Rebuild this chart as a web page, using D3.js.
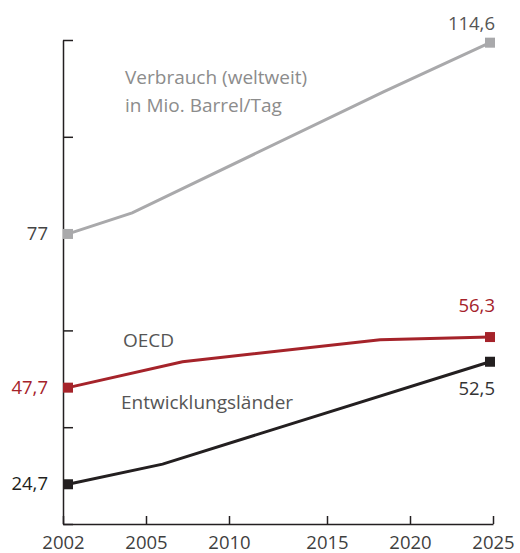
<!DOCTYPE html>
<html>
<head>
<meta charset="utf-8">
<script src="https://cdn.jsdelivr.net/npm/d3@7"></script>
<style>
  body { margin: 0; background: #fff; }
  text { font-family: "Open Sans", "Noto Sans", sans-serif; }
</style>
</head>
<body>
<div id="chart"></div>
<script>
// data
var tickYears = [2002, 2005, 2010, 2015, 2020, 2025];

var verbrauch = [
  {year: 2002, value: 77},
  {year: 2004.5, value: 81.4},
  {year: 2018.4, value: 105},
  {year: 2025, value: 114.6}
];
var oecd = [
  {year: 2002, value: 47.7},
  {year: 2007.2, value: 52.5},
  {year: 2018.2, value: 55.9},
  {year: 2025, value: 56.3}
];
var entwicklung = [
  {year: 2002, value: 24.7},
  {year: 2006, value: 29.5},
  {year: 2025, value: 52.5}
];

var seriesNames = ["Verbrauch", "OECD", "Entwicklungsländer"];
var seriesColors = ["#a9a9ab", "#a5232a", "#231f20"];
var labelColors = ["#555555", "#a5232a", "#231f20"];

// set the dimensions and margins of the graph
var margin = {top: 40, right: 27, bottom: 29, left: 63},
    width = 520 - margin.left - margin.right,
    height = 553 - margin.top - margin.bottom;

var svg = d3.select("#chart")
  .append("svg")
    .attr("width", width + margin.left + margin.right)
    .attr("height", height + margin.top + margin.bottom)
  .append("g")
    .attr("transform", "translate(" + margin.left + "," + margin.top + ")");

// X scale (the original spacing of the years is not even)
var x = d3.scaleLinear()
  .domain(tickYears)
  .range([0, 83, 166, 264, 347, 430]);

// Y scale (hand drawn original, piecewise)
var y = d3.scaleLinear()
  .domain([20, 50, 60, 80, 120])
  .range([464, 338, 273, 180, -25]);

// markers sit just inside the axes
var px = function(year) { return Math.max(5, Math.min(x(year), width - 3)); };

// X axis
var xAxis = svg.append("g")
  .attr("transform", "translate(0," + height + ")")
  .call(d3.axisBottom(x).tickValues(tickYears).tickFormat(d3.format("d"))
        .tickSize(-8).tickSizeOuter(0).tickPadding(12));
xAxis.select(".domain").attr("stroke", "#231f20").attr("stroke-width", 1.5);
xAxis.selectAll(".tick line").attr("stroke", "#231f20").attr("stroke-width", 1.5);
xAxis.selectAll("text")
  .attr("font-size", "18.5px")
  .attr("fill", "#3f3f3f");

// Y axis, ticks without labels
var yTicks = d3.scaleLinear().domain([0, 5]).range([height, 0]);
var yAxis = svg.append("g")
  .call(d3.axisRight(yTicks).ticks(5).tickFormat("").tickSize(10).tickSizeOuter(0));
yAxis.select(".domain").attr("stroke", "#231f20").attr("stroke-width", 1.5);
yAxis.selectAll(".tick line").attr("stroke", "#231f20").attr("stroke-width", 1.5);

// Lines
var line = d3.line()
  .x(function(d) { return px(d.year); })
  .y(function(d) { return y(d.value); });

var allSeries = [verbrauch, oecd, entwicklung];

allSeries.forEach(function(data, i) {
  svg.append("path")
    .datum(data)
    .attr("fill", "none")
    .attr("stroke", seriesColors[i])
    .attr("stroke-width", 3)
    .attr("d", line);

  var ends = [data[0], data[data.length - 1]];
  svg.selectAll(".m" + i)
    .data(ends)
    .enter()
    .append("rect")
      .attr("x", function(d) { return px(d.year) - 5; })
      .attr("y", function(d) { return y(d.value) - 5; })
      .attr("width", 10)
      .attr("height", 10)
      .attr("fill", seriesColors[i]);
});

var fmt = function(v) { return String(v).replace(".", ","); };

// start values, left of the axis
var startLabels = [
  {d: verbrauch[0], color: "#444444"},
  {d: oecd[0], color: labelColors[1]},
  {d: entwicklung[0], color: labelColors[2]}
];
svg.selectAll(".startlabel")
  .data(startLabels)
  .enter()
  .append("text")
    .attr("x", -15)
    .attr("y", function(s) { return y(s.d.value) + 6; })
    .attr("text-anchor", "end")
    .attr("font-size", "18.5px")
    .attr("fill", function(s) { return s.color; })
    .text(function(s) { return fmt(s.d.value); });

// end values
var endLabels = [
  {d: verbrauch[verbrauch.length - 1], color: "#555555", dy: -13},
  {d: oecd[oecd.length - 1], color: labelColors[1], dy: -25},
  {d: entwicklung[entwicklung.length - 1], color: "#333333", dy: 33}
];
svg.selectAll(".endlabel")
  .data(endLabels)
  .enter()
  .append("text")
    .attr("x", width + 2)
    .attr("y", function(s) { return y(s.d.value) + s.dy; })
    .attr("text-anchor", "end")
    .attr("font-size", "18.5px")
    .attr("fill", function(s) { return s.color; })
    .text(function(s) { return fmt(s.d.value); });

//----------------------------------------------------------------
//       Labels
//----------------------------------------------------------------
var title = svg.append("text")
  .attr("x", 62)
  .attr("y", 44)
  .attr("font-size", "19px")
  .attr("fill", "#8c8c8c");
title.append("tspan").attr("x", 62).text("Verbrauch (weltweit)");
title.append("tspan").attr("x", 62).attr("dy", 28).text("in Mio. Barrel/Tag");

svg.append("text")
  .attr("x", 60)
  .attr("y", 307)
  .attr("font-size", "19px")
  .attr("fill", "#555")
  .text(seriesNames[1]);

svg.append("text")
  .attr("x", 58)
  .attr("y", 369)
  .attr("font-size", "19px")
  .attr("fill", "#555")
  .text(seriesNames[2]);
</script>
</body>
</html>
